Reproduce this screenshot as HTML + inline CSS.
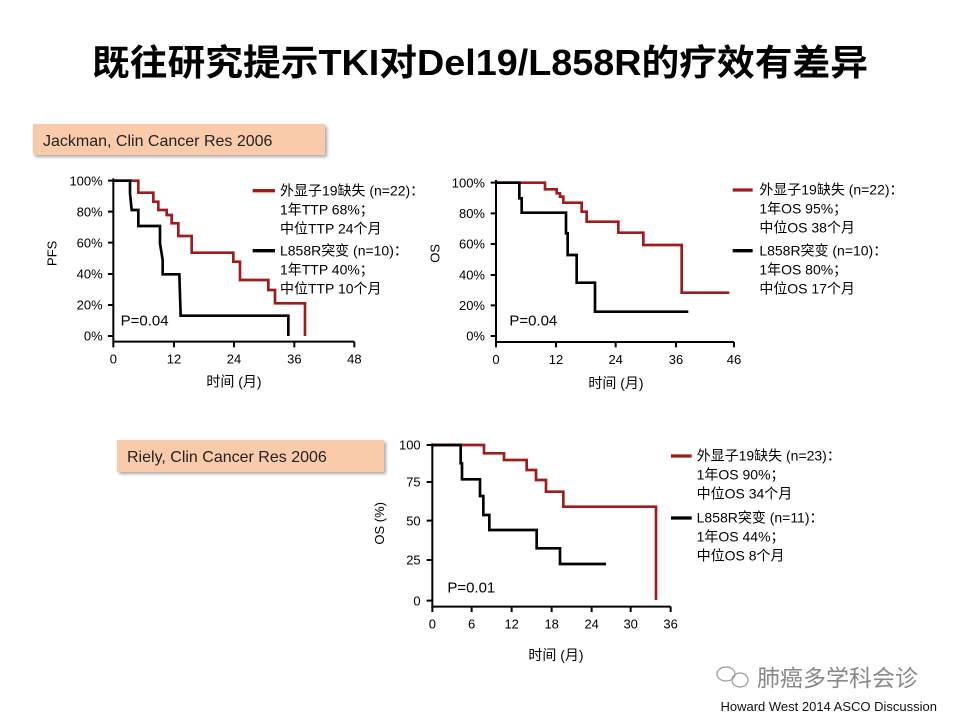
<!DOCTYPE html>
<html><head><meta charset="utf-8"><style>
html,body{margin:0;padding:0;background:#fff;}
svg{display:block;}
text{font-family:"Liberation Sans","Noto Sans CJK SC",sans-serif;}
</style></head><body>
<svg width="960" height="720" viewBox="0 0 960 720" xmlns="http://www.w3.org/2000/svg">
<defs>
<filter id="sh" x="-5%" y="-20%" width="115%" height="160%"><feDropShadow dx="2" dy="2" stdDeviation="1.5" flood-color="#000" flood-opacity="0.35"/></filter>
</defs>
<rect width="960" height="720" fill="#fff"/>
<text x="480" y="75" text-anchor="middle" font-size="36" font-weight="bold" textLength="776" lengthAdjust="spacingAndGlyphs" fill="#000">既往研究提示TKI对Del19/L858R的疗效有差异</text>

<rect x="33" y="124" width="292" height="31" fill="#f9cbaa" filter="url(#sh)"/>
<text x="43" y="146" font-size="16" fill="#222">Jackman, Clin Cancer Res 2006</text>
<rect x="117" y="440" width="267" height="32" fill="#f9cbaa" filter="url(#sh)"/>
<text x="127" y="462" font-size="16" fill="#222">Riely, Clin Cancer Res 2006</text>

<!-- Chart 1 -->
<g transform="translate(30,160) scale(0.33333)">
<g stroke="#000" stroke-width="6" fill="none">
<path d="M250,55 V545 H973"/>
<path d="M234,62 H250 M234,155 H250 M234,248 H250 M234,342 H250 M234,435 H250 M234,528 H250"/>
<path d="M250,545 V562 M432,545 V562 M612,545 V562 M793,545 V562 M973,545 V562"/>
</g>
<g font-size="39" text-anchor="end" fill="#000">
<text x="218" y="76">100%</text><text x="218" y="169">80%</text><text x="218" y="262">60%</text><text x="218" y="356">40%</text><text x="218" y="449">20%</text><text x="218" y="542">0%</text>
</g>
<g font-size="39" text-anchor="middle" fill="#000">
<text x="250" y="610">0</text><text x="432" y="610">12</text><text x="612" y="610">24</text><text x="793" y="610">36</text><text x="973" y="610">48</text>
<text x="612" y="680" font-size="42">时间 (月)</text>
</g>
<text transform="translate(80,280) rotate(-90)" font-size="39" text-anchor="middle">PFS</text>
<text x="272" y="496" font-size="45">P=0.04</text>
<path d="M250,62 H325 V98 H370 V125 H385 V150 H410 V165 H425 V190 H445 V228 H485 V278 H610 V305 H630 V360 H715 V390 H735 V430 H825 V528" stroke="#a01c1c" stroke-width="8" fill="none"/>
<path d="M250,62 H300 V100 L305,150 H325 V198 H390 V250 L398,300 V343 H448 L452,467 H775 V528" stroke="#000" stroke-width="8" fill="none"/>
<path d="M668,92 H735" stroke="#a01c1c" stroke-width="10"/>
<path d="M668,272 H735" stroke="#000" stroke-width="10"/>
<g font-size="42" fill="#000">
<text x="750" y="106">外显子19缺失 (n=22)：</text>
<text x="750" y="163">1年TTP 68%；</text>
<text x="750" y="220">中位TTP 24个月</text>
<text x="750" y="286">L858R突变 (n=10)：</text>
<text x="750" y="343">1年TTP 40%；</text>
<text x="750" y="400">中位TTP 10个月</text>
</g>
</g>

<!-- Chart 2 -->
<g transform="translate(420,160) scale(0.33333)">
<g stroke="#000" stroke-width="6" fill="none">
<path d="M228,60 V546 H942"/>
<path d="M212,68 H228 M212,160 H228 M212,252 H228 M212,345 H228 M212,436 H228 M212,528 H228"/>
<path d="M228,546 V562 M408,546 V562 M587,546 V562 M768,546 V562 M942,546 V562"/>
</g>
<g font-size="39" text-anchor="end" fill="#000">
<text x="195" y="82">100%</text><text x="195" y="174">80%</text><text x="195" y="266">60%</text><text x="195" y="359">40%</text><text x="195" y="450">20%</text><text x="195" y="542">0%</text>
</g>
<g font-size="39" text-anchor="middle" fill="#000">
<text x="228" y="612">0</text><text x="408" y="612">12</text><text x="587" y="612">24</text><text x="768" y="612">36</text><text x="942" y="612">46</text>
<text x="588" y="684" font-size="42">时间 (月)</text>
</g>
<text transform="translate(58,280) rotate(-90)" font-size="39" text-anchor="middle">OS</text>
<text x="268" y="497" font-size="45">P=0.04</text>
<path d="M228,68 H375 V88 H410 V100 H420 V110 H430 V128 H485 V155 H500 V185 H595 V218 H670 V255 H785 V398 H928" stroke="#a01c1c" stroke-width="8" fill="none"/>
<path d="M228,68 H298 V115 H305 V158 H438 V220 H443 V285 H470 V368 H525 V455 H805" stroke="#000" stroke-width="8" fill="none"/>
<path d="M938,90 H998" stroke="#a01c1c" stroke-width="10"/>
<path d="M938,272 H998" stroke="#000" stroke-width="10"/>
<g font-size="42" fill="#000">
<text x="1018" y="104">外显子19缺失 (n=22)：</text>
<text x="1018" y="161">1年OS 95%；</text>
<text x="1018" y="218">中位OS 38个月</text>
<text x="1018" y="286">L858R突变 (n=10)：</text>
<text x="1018" y="343">1年OS 80%；</text>
<text x="1018" y="400">中位OS 17个月</text>
</g>
</g>

<!-- Chart 3 -->
<g transform="translate(380,430) scale(0.33333)">
<g stroke="#000" stroke-width="6" fill="none">
<path d="M157,40 V530 H872"/>
<path d="M140,45 H157 M140,156 H157 M140,272 H157 M140,390 H157 M140,512 H157"/>
<path d="M157,530 V546 M275,530 V546 M395,530 V546 M515,530 V546 M635,530 V546 M752,530 V546 M872,530 V546"/>
</g>
<g font-size="39" text-anchor="end" fill="#000">
<text x="122" y="59">100</text><text x="122" y="170">75</text><text x="122" y="286">50</text><text x="122" y="404">25</text><text x="122" y="526">0</text>
</g>
<g font-size="39" text-anchor="middle" fill="#000">
<text x="157" y="595">0</text><text x="275" y="595">6</text><text x="395" y="595">12</text><text x="515" y="595">18</text><text x="635" y="595">24</text><text x="752" y="595">30</text><text x="872" y="595">36</text>
<text x="528" y="690" font-size="42">时间 (月)</text>
</g>
<text transform="translate(12,280) rotate(-90)" font-size="39" text-anchor="middle">OS (%)</text>
<text x="202" y="488" font-size="45">P=0.01</text>
<path d="M157,45 H312 V70 H372 V90 H440 V120 H468 V150 H498 V185 H550 V230 H828 V510" stroke="#a01c1c" stroke-width="8" fill="none"/>
<path d="M157,45 H242 V100 H246 V148 H300 V198 H310 V255 H328 V300 H470 V355 H540 V402 H678" stroke="#000" stroke-width="8" fill="none"/>
<path d="M873,78 H935" stroke="#a01c1c" stroke-width="10"/>
<path d="M873,264 H935" stroke="#000" stroke-width="10"/>
<g font-size="42" fill="#000">
<text x="950" y="92">外显子19缺失 (n=23)：</text>
<text x="950" y="149">1年OS 90%；</text>
<text x="950" y="206">中位OS 34个月</text>
<text x="950" y="278">L858R突变 (n=11)：</text>
<text x="950" y="335">1年OS 44%；</text>
<text x="950" y="392">中位OS 8个月</text>
</g>
</g>

<!-- watermark -->
<g fill="none" stroke="#999" stroke-width="1.2">
<ellipse cx="726" cy="674" rx="9" ry="7"/>
<ellipse cx="740" cy="680" rx="8" ry="7"/>
</g>
<text x="757" y="686" font-size="23" fill="#888">肺癌多学科会诊</text>
<text x="937" y="711" font-size="13" text-anchor="end" fill="#111">Howard West 2014 ASCO Discussion</text>
</svg>
</body></html>
